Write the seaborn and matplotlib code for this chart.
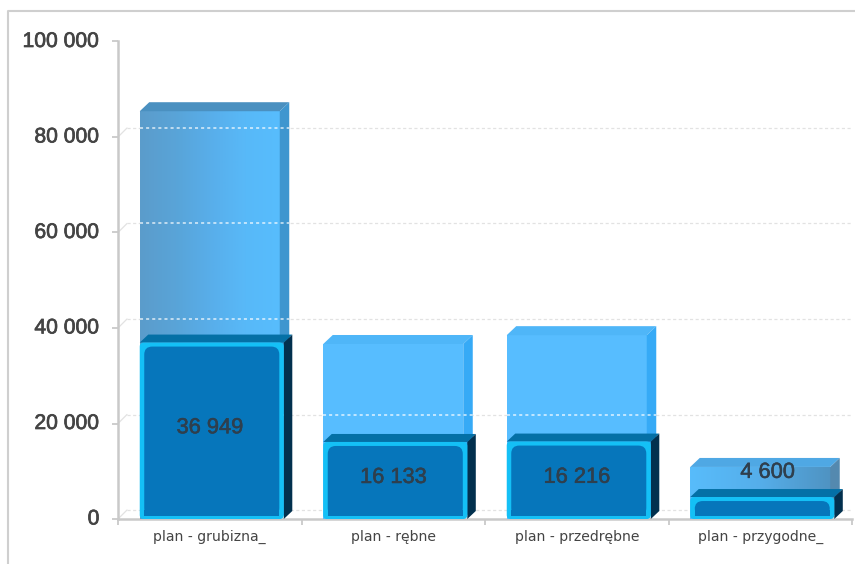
import numpy as np
import pandas as pd
import matplotlib
matplotlib.use("Agg")
import matplotlib.pyplot as plt
import matplotlib.patheffects as pe
from matplotlib.colors import LinearSegmentedColormap
from matplotlib.lines import Line2D
from matplotlib.patches import FancyBboxPatch, Polygon, Rectangle
from matplotlib.transforms import Affine2D
import seaborn as sns

categories = ["plan - grubizna_", "plan - rębne", "plan - przedrębne", "plan - przygodne_"]
plan_total = [85400, 36650, 38500, 10900]
plan_done = [36949, 16133, 16216, 4600]
value_labels = ["36 949", "16 133", "16 216", "4 600"]
y_ticks = [0, 20000, 40000, 60000, 80000, 100000]
y_tick_labels = ["0", "20 000", "40 000", "60 000", "80 000", "100 000"]

W, H = 855, 564
sns.set_theme(style="white")
plt.rcParams["font.family"] = ["Liberation Sans", "DejaVu Sans"]

fig = plt.figure(figsize=(W / 100, H / 100), dpi=100, facecolor="white")
ax = fig.add_axes([118 / W, 1 - 519 / H, (852 - 118) / W, (519 - 41.5) / H])
df = pd.DataFrame({"category": categories, "total": plan_total, "done": plan_done})

sns.barplot(data=df, x="category", y="total", color="#57bdff", saturation=1, width=0.763,
            linewidth=0, ax=ax, zorder=3)
n_light = len(ax.patches)
sns.barplot(data=df, x="category", y="done", color="#14c0f6", saturation=1, width=0.763,
            linewidth=0, ax=ax, zorder=6)
light = ax.patches[:n_light]
dark = ax.patches[n_light:]
ax.set_xlim(-0.5, 3.5)
ax.set_ylim(0, 100000)
ax.set_xlabel("")
ax.set_ylabel("")
ax.set_yticks(y_ticks, y_tick_labels)
ax.set_xticks(np.arange(-0.5, 4.0, 1.0))
ax.set_xticklabels([])
ax.set_facecolor("none")
for s in ("top", "right"):
    ax.spines[s].set_visible(False)
for s in ("left", "bottom"):
    ax.spines[s].set_color("#c9c9c9")
    ax.spines[s].set_linewidth(1.8)
ax.tick_params(axis="y", length=4.3, width=1.3, color="#c9c9c9", left=True, pad=9,
               labelsize=15.2, labelcolor="#444444")
ax.tick_params(axis="x", length=4, width=1.3, color="#c9c9c9", bottom=True)
heavy = [pe.withStroke(linewidth=0.5, foreground="#444444")]
for t in ax.get_yticklabels():
    t.set_path_effects(heavy)
    t.set_transform(t.get_transform() + Affine2D().translate(0, 2))

for xc, lab in zip(range(4), categories):
    ax.annotate(lab, (xc, 0), xytext=(0, -18), textcoords="offset pixels", ha="center", va="center",
                fontsize=10.1, color="#444444", family="DejaVu Sans", annotation_clip=False)

DX, DY = 9.5, 9
to_px = ax.transData.transform


def poly(pts, color, z):
    ax.add_patch(Polygon(pts, closed=True, facecolor=color, edgecolor="none", transform=None,
                         zorder=z, clip_on=False))


# back-plane gridlines and the small wedges joining them to the ticks
for v in y_ticks:
    x0, y0 = to_px((-0.5, v))
    x1, y1 = to_px((3.5, v))
    ax.add_line(Line2D([x0, x0 + 9], [y0, y0 + 9], transform=None, color="#e2e2e2", lw=0.9, zorder=1))
    ax.add_line(Line2D([x0 + 9, x1], [y0 + 9, y0 + 9], transform=None, color="#e2e2e2", lw=0.9,
                       ls=(0, (2.5, 2)), zorder=1))

# outer frame
fig.add_artist(Line2D([7.5 / W, 7.5 / W, 1], [0, 1 - 10.5 / H, 1 - 10.5 / H], color="#cfcfcf", lw=1.5))

grad_left = LinearSegmentedColormap.from_list("g0", ["#5b9ccb", "#59a4d8", "#58aeea", "#58b9f8", "#57bdfd"])
grad_right = LinearSegmentedColormap.from_list("g3", ["#58bcfb", "#55aeea", "#4f93c2"])
grad_vals = np.linspace(0, 1, 128).reshape(1, -1)

for i, (lp, dp) in enumerate(zip(light, dark)):
    # light (plan) box
    lx0, lb = to_px((lp.get_x(), 0))
    lx1, lt = to_px((lp.get_x() + lp.get_width(), lp.get_height()))
    if i in (0, 3):
        cmap = grad_left if i == 0 else grad_right
        im = ax.imshow(grad_vals, extent=(lp.get_x(), lp.get_x() + lp.get_width(), 0, lp.get_height()),
                       aspect="auto", cmap=cmap, zorder=3.1)
        im.set_clip_path(lp)
    top_c = {0: "#4a90c0", 3: "#4fa8e4"}.get(i, "#4fb6f8")
    side_c = {0: "#3f96cf", 3: "#5489af"}.get(i, "#36aaf6")
    poly([(lx0, lt), (lx1, lt), (lx1 + DX, lt + DY), (lx0 + DX, lt + DY)], top_c, 3.2)
    poly([(lx1, lb), (lx1 + DX, lb + DY), (lx1 + DX, lt + DY), (lx1, lt)], side_c, 3.2)
    # white dashes where the gridlines show through the translucent box
    for v in y_ticks:
        _, gy = to_px((0, v))
        gy = gy + 9
        if lb + 9 < gy < lt:
            ax.add_line(Line2D([lx0, lx1 + DX], [gy, gy], transform=None, color="white", alpha=0.8,
                               lw=1.1, ls=(0, (2, 2)), zorder=4))

    # dark (done) box
    dp.set_width(0.785)
    dx0, db = to_px((dp.get_x(), 0))
    dx1, dt = to_px((dp.get_x() + dp.get_width(), dp.get_height()))
    dp.set_visible(False)
    poly([(dx0, dt), (dx1, dt), (dx1 + 8.5, dt + 8), (dx0 + 8.5, dt + 8)], "#0470a6", 5)
    poly([(dx1, db), (dx1 + 8.5, db + 8), (dx1 + 8.5, dt + 8), (dx1, dt)], "#02304e", 5)
    ax.add_patch(FancyBboxPatch((dx0, db), dx1 - dx0, dt - db,
                                boxstyle="round,pad=0,rounding_size=4", facecolor="#14c0f6",
                                edgecolor="none", transform=None, zorder=6, clip_on=False))
    ax.add_patch(FancyBboxPatch((dx0 + 4.5, db + 3), dx1 - dx0 - 9, dt - db - 7,
                                boxstyle="round,pad=0,rounding_size=8", facecolor="#0676bb",
                                edgecolor="none", transform=None, zorder=7, clip_on=False))
    ax.add_patch(Rectangle((dx0 + 4.5, db + 3), dx1 - dx0 - 9, 6, facecolor="#0676bb",
                           edgecolor="none", transform=None, zorder=7, clip_on=False))
    # value label: inside the dark box, or inside the light box when it does not fit
    fits = plan_done[i] > 10000
    y_lab = plan_done[i] / 2 if fits else plan_done[i] + (plan_total[i] - plan_done[i]) * 0.72
    ax.annotate(value_labels[i], (i if fits else i + 0.04, y_lab), xytext=(0, 3), textcoords="offset pixels",
                ha="center", va="center", fontsize=15.7, color="#2f3f4d", zorder=9, annotation_clip=False,
                path_effects=[pe.withStroke(linewidth=0.4, foreground="#2f3f4d")])

ax.set_xlim(-0.5, 3.5)
ax.set_ylim(0, 100000)
fig.savefig("out.png", dpi=100)
